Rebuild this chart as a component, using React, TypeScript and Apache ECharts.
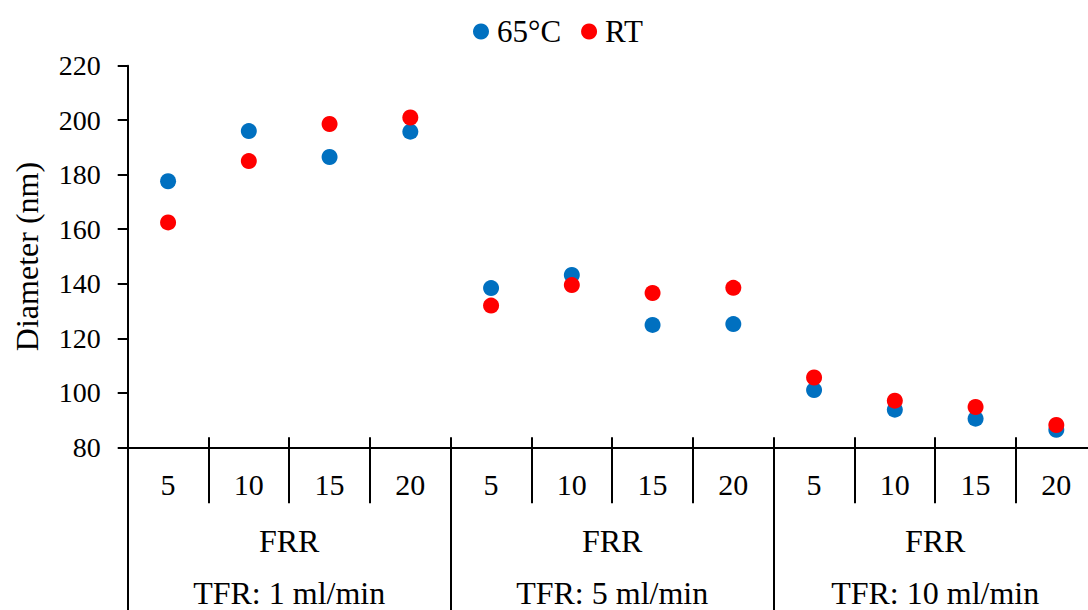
import React, { useEffect, useRef } from "react";
import * as echarts from "echarts";

const frrLabels = ["5", "10", "15", "20", "5", "10", "15", "20", "5", "10", "15", "20"];
const groupLabels = ["FRR\nTFR: 1 ml/min", "FRR\nTFR: 5 ml/min", "FRR\nTFR: 10 ml/min"];
const hot65 = [177.6, 196.0, 186.5, 195.8, 138.4, 143.2, 124.9, 125.2, 101.0, 93.8, 90.5, 86.4];
const rtValues = [162.5, 185.0, 198.6, 201.0, 132.0, 139.5, 136.6, 138.5, 105.6, 97.1, 94.8, 88.2];
const yTicks = { min: 80, max: 220, interval: 20 };

const FONT = "Liberation Serif";

export default function App() {
  const ref = useRef<HTMLDivElement>(null);
  useEffect(() => {
    if (!ref.current) return;
    const chart = echarts.init(ref.current, null, { renderer: "svg" });
    chart.setOption({
      animation: false,
      textStyle: { fontFamily: FONT, color: "#000" },
      legend: {
        top: 11,
        left: 468,
        itemWidth: 16,
        itemHeight: 16,
        itemGap: 20,
        icon: "circle",
        textStyle: { fontFamily: FONT, fontSize: 31, color: "#000", padding: [0, 0, 0, 3] },
        data: ["65°C", "RT"],
      },
      grid: {
        left: 127.7,
        top: 65.7,
        bottom: 162.7,
        right: 13.3,
        containLabel: false,
        outerBoundsMode: "none",
      },
      xAxis: [
        {
          type: "category",
          data: frrLabels,
          position: "bottom",
          boundaryGap: true,
          axisLine: { show: true, lineStyle: { color: "#000", width: 2 } },
          axisTick: { show: true, length: 56, lineStyle: { color: "#000", width: 2 }, interval: 0 },
          axisLabel: { interval: 0, fontFamily: FONT, fontSize: 30, color: "#000", margin: 22 },
        },
        {
          type: "category",
          data: frrLabels,
          position: "bottom",
          boundaryGap: true,
          axisLine: { show: false },
          axisTick: { show: true, inside: true, length: 10, lineStyle: { color: "#000", width: 2 }, interval: 0 },
          axisLabel: { show: false },
        },
        {
          type: "category",
          data: groupLabels,
          position: "bottom",
          boundaryGap: true,
          axisLine: { show: false },
          axisTick: { show: true, length: 200, lineStyle: { color: "#000", width: 2 }, interval: 0 },
          axisLabel: {
            interval: 0,
            fontFamily: FONT,
            fontSize: 32,
            color: "#000",
            lineHeight: 52,
            margin: 68,
          },
        },
      ],
      yAxis: {
        type: "value",
        min: yTicks.min,
        max: yTicks.max,
        interval: yTicks.interval,
        name: "Diameter (nm)",
        nameLocation: "middle",
        nameGap: 85,
        nameTextStyle: { fontFamily: FONT, fontSize: 32, color: "#000" },
        axisLine: { show: true, lineStyle: { color: "#000", width: 2 } },
        axisTick: { show: true, length: 10, lineStyle: { color: "#000", width: 2 } },
        splitLine: { show: false },
        axisLabel: { fontFamily: FONT, fontSize: 28, color: "#000", margin: 27 },
      },
      series: [
        {
          name: "65°C",
          type: "scatter",
          xAxisIndex: 0,
          data: hot65,
          symbol: "circle",
          symbolSize: 16,
          itemStyle: { color: "#0070C0", opacity: 1 },
        },
        {
          name: "RT",
          type: "scatter",
          xAxisIndex: 0,
          data: rtValues,
          symbol: "circle",
          symbolSize: 16,
          itemStyle: { color: "#FF0000", opacity: 1 },
        },
      ],
    });
    return () => chart.dispose();
  }, []);
  return (
    <div style={{ position: "fixed", left: 0, top: 0, width: 1088, height: 610, overflow: "hidden", background: "#fff" }}>
      <div ref={ref} style={{ width: 1110, height: 610 }} />
    </div>
  );
}
